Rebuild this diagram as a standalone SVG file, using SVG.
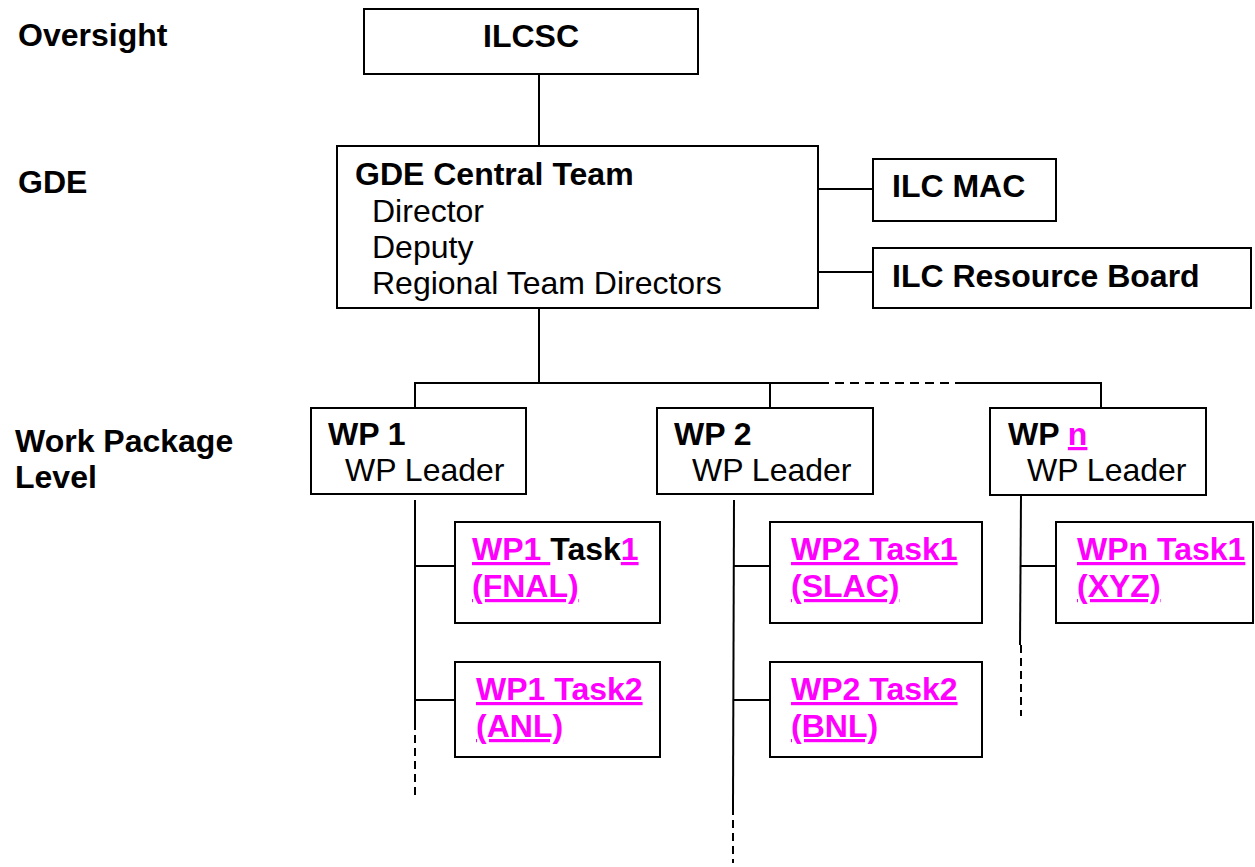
<svg xmlns="http://www.w3.org/2000/svg" width="1255" height="867" viewBox="0 0 1255 867">
<style>
.box{fill:#fff;stroke:#000;stroke-width:2}
.ln{fill:none;stroke:#000;stroke-width:2}
.dash{fill:none;stroke:#000;stroke-width:2;stroke-dasharray:8 5}
text{font-family:"Liberation Sans",Arial,sans-serif;font-size:32px;fill:#000}
.b{font-weight:bold}
.m{fill:#FF00FF;text-decoration:underline;text-decoration-thickness:3px}
</style>
<rect width="1255" height="867" fill="#fff"/>
<g id="labels">
<text class="b" x="18" y="46">Oversight</text>
<text class="b" x="18" y="193">GDE</text>
<text class="b" x="15" y="452">Work Package</text>
<text class="b" x="15" y="488">Level</text>
</g>
<g id="connectors">
<line class="ln" x1="539" y1="74" x2="539" y2="146"/>
<line class="ln" x1="818" y1="189" x2="873" y2="189"/>
<line class="ln" x1="818" y1="272" x2="873" y2="272"/>
<line class="ln" x1="539" y1="308" x2="539" y2="383"/>
<polyline class="ln" points="415,408 415,383 820,383"/>
<line class="dash" x1="820" y1="383" x2="955" y2="383" style="stroke-dasharray:9 6"/>
<polyline class="ln" points="955,383 1101,383 1101,408"/>
<line class="ln" x1="770" y1="383" x2="770" y2="408"/>
<line class="ln" x1="415" y1="500" x2="415" y2="722"/>
<line class="dash" x1="415" y1="722" x2="415" y2="798"/>
<line class="ln" x1="415" y1="566" x2="455" y2="566"/>
<line class="ln" x1="415" y1="700" x2="455" y2="700"/>
<line class="ln" x1="734" y1="500" x2="733" y2="807"/>
<line class="dash" x1="733" y1="807" x2="733" y2="863"/>
<line class="ln" x1="733" y1="566" x2="770" y2="566"/>
<line class="ln" x1="733" y1="700" x2="770" y2="700"/>
<line class="ln" x1="1021" y1="496" x2="1020" y2="645"/>
<line class="dash" x1="1021" y1="645" x2="1021" y2="716"/>
<line class="ln" x1="1020" y1="566" x2="1057" y2="566"/>
</g>
<g id="ilcsc">
<rect class="box" x="364" y="9" width="334" height="65"/>
<text class="b" x="531" y="47" text-anchor="middle">ILCSC</text>
</g>
<g id="gde">
<rect class="box" x="337" y="146" width="481" height="162"/>
<text class="b" x="355" y="185">GDE Central Team</text>
<text x="372" y="222">Director</text>
<text x="372" y="258">Deputy</text>
<text x="372" y="294">Regional Team Directors</text>
</g>
<g id="mac">
<rect class="box" x="873" y="159" width="183" height="62"/>
<text class="b" x="892" y="197">ILC MAC</text>
</g>
<g id="rb">
<rect class="box" x="873" y="248" width="378" height="60"/>
<text class="b" x="892" y="287">ILC Resource Board</text>
</g>
<g id="wp1">
<rect class="box" x="311" y="408" width="215" height="86"/>
<text class="b" x="328" y="445">WP 1</text>
<text x="345" y="481">WP Leader</text>
</g>
<g id="wp2">
<rect class="box" x="657" y="408" width="216" height="86"/>
<text class="b" x="674" y="445">WP 2</text>
<text x="692" y="481">WP Leader</text>
</g>
<g id="wpn">
<rect class="box" x="990" y="408" width="216" height="87"/>
<text class="b" x="1008" y="445">WP <tspan class="m">n</tspan></text>
<text x="1027" y="481">WP Leader</text>
</g>
<g id="wp1t1">
<rect class="box" x="455" y="522" width="205" height="101"/>
<text class="b" x="472" y="560"><tspan class="m" style="white-space:pre">WP1 </tspan><tspan>Task</tspan><tspan class="m">1</tspan></text>
<text class="b m" x="472" y="597">(FNAL)</text>
</g>
<g id="wp1t2">
<rect class="box" x="455" y="662" width="205" height="95"/>
<text class="b m" x="476" y="700">WP1 Task2</text>
<text class="b m" x="476" y="737">(ANL)</text>
</g>
<g id="wp2t1">
<rect class="box" x="770" y="522" width="212" height="101"/>
<text class="b m" x="791" y="560">WP2 Task1</text>
<text class="b m" x="791" y="597">(SLAC)</text>
</g>
<g id="wp2t2">
<rect class="box" x="770" y="662" width="212" height="95"/>
<text class="b m" x="791" y="700">WP2 Task2</text>
<text class="b m" x="791" y="737">(BNL)</text>
</g>
<g id="wpnt1">
<rect class="box" x="1056" y="522" width="197" height="101"/>
<text class="b m" x="1077" y="560">WPn Task1</text>
<text class="b m" x="1077" y="597">(XYZ)</text>
</g>
</svg>
